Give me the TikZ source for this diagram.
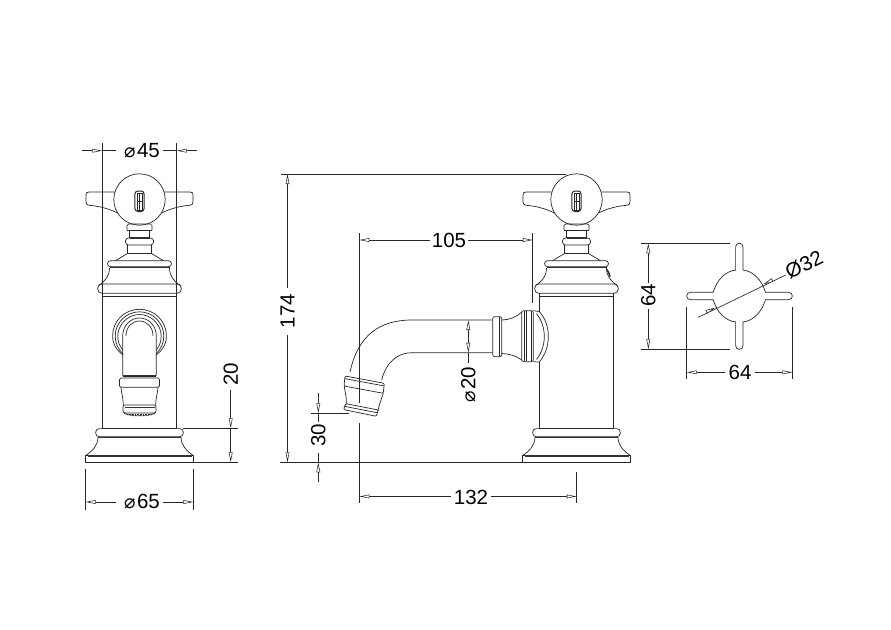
\documentclass[tikz,border=0pt]{standalone}
\usepackage{fontspec}
\setmainfont{Liberation Sans}
\newfontfamily\symfont{DejaVu Sans}
\usetikzlibrary{arrows.meta}
\newcommand{\dia}{{\symfont\fontsize{19}{19}\selectfont ⌀}\kern1.5pt}
\tikzset{
  part/.style={line width=0.7pt,draw=black!85,line join=round},
  heavy/.style={line width=1.3pt,draw=black!80},
  dimline/.style={line width=0.65pt,draw=black!85},
  tipa/.style={{Triangle[open,fill=white,length=10pt,width=3.8pt,line width=0.55pt]}-},
  tipb/.style={-{Triangle[open,fill=white,length=10pt,width=3.8pt,line width=0.55pt]}},
  dimtext/.style={font=\fontsize{20.5}{20.5}\selectfont,inner sep=0pt,text=black},
  head/.pic={
    % handle arms
    \draw[part] (-24.5,192) -- (-50.5,192) .. controls (-53,192) and (-53.5,193) .. (-53.5,195)
      -- (-53.5,202) .. controls (-53.5,204) and (-52.5,205) .. (-50.5,205.3)
      .. controls (-40,206) and (-30,209) .. (-22,213);
    \draw[part] (24.5,192) -- (50.5,192) .. controls (53,192) and (53.5,193) .. (53.5,195)
      -- (53.5,202) .. controls (53.5,204) and (52.5,205) .. (50.5,205.3)
      .. controls (40,206) and (30,209) .. (22,213);
    \draw[part,fill=white] (0,199.5) circle[radius=25.7];
    % slot
    \draw[part,line width=1pt,rounded corners=3pt] (-4.6,191) rectangle (4.6,211.5);
    \draw[part,line width=0.5pt] (-2.6,193) rectangle (2.6,210);
    \draw[part,line width=0.5pt] (0,193) -- (0,210) (-2.6,201.5) -- (2.6,201.5);
    % neck
    \draw[part,rounded corners=1.5pt] (-12.5,230) -- (-12.5,224) -- (12.5,224) -- (12.5,230);
    \draw[part] (-12.5,230) -- (12.5,230);
    \draw[part] (-10,230) -- (-10,238) (10,230) -- (10,238);
    \draw[part,rounded corners=3pt] (-14,238) rectangle (14,245);
    \draw[heavy] (-10,238) -- (10,238);
    \draw[part] (-12,245) -- (-12,253.5) -- (12,253.5) -- (12,245);
    % cone and flange
    \draw[part] (-12,253.5) -- (-24,260.7) (12,253.5) -- (24,260.7);
    \draw[part,rounded corners=3pt] (-32,260.7) rectangle (32,266.7);
    \draw[heavy] (-30,267.6) -- (30,267.6);
    % bell
    \draw[part] (-30,268) .. controls (-30,276) and (-34,281) .. (-41,285.5);
    \draw[part] (30,268) .. controls (30,276) and (34,281) .. (41,285.5);
    \draw[part,rounded corners=4pt] (-41.7,284) rectangle (41.7,293.3);
    \draw[part] (-37.2,296) -- (37.2,296) (-37.2,293.3) -- (-37.2,296) (37.2,293.3) -- (37.2,296);
  },
  foot/.pic={
    \draw[part] (-37.2,428.6) -- (37.2,428.6);
    \draw[part,rounded corners=3.5pt] (-43.8,428.6) rectangle (43.8,436.7);
    \draw[heavy] (-41.5,437.4) -- (41.5,437.4);
    \draw[part] (-41.5,437.5) .. controls (-42,446) and (-47,451) .. (-53.8,455.5);
    \draw[part] (41.5,437.5) .. controls (42,446) and (47,451) .. (53.8,455.5);
    \draw[part] (-53.8,455) rectangle (53.8,462.3);
    \draw[heavy] (-52,456) -- (52,456);
  },
}
\begin{document}
\begin{tikzpicture}[x=1pt,y=-1pt]
\useasboundingbox (0,0) rectangle (891,629);

% ---------- left view
\pic at (139.5,0) {head};
\pic at (139.5,0) {foot};
\draw[part] (102.3,296) -- (102.3,428.6) (176.7,296) -- (176.7,428.6);
% wall rosette arcs
\draw[part] (123.3,355) .. controls (116,350) and (112.6,344) .. (112.6,336)
  .. controls (112.6,321) and (124.5,309.3) .. (139.5,309.3)
  .. controls (154.5,309.3) and (166.4,321) .. (166.4,336)
  .. controls (166.4,344) and (163,350) .. (156,355);
\draw[part] (122.7,353.5) .. controls (118,349) and (115.2,343) .. (115.2,336)
  .. controls (115.2,323) and (126,311.8) .. (139.5,311.8)
  .. controls (153,311.8) and (163.8,323) .. (163.8,336)
  .. controls (163.8,343) and (161,349) .. (156.3,353.5);
\draw[part] (122.7,350) .. controls (119,345) and (117.8,341) .. (117.8,336)
  .. controls (117.8,325) and (127.5,314.5) .. (139.5,314.5)
  .. controls (151.5,314.5) and (161.2,325) .. (161.2,336)
  .. controls (161.2,341) and (160,345) .. (156.3,350);
% spout front
\draw[part] (122.7,375.5) -- (122.7,336) .. controls (122.7,326) and (130,318) .. (139.5,318)
  .. controls (149,318) and (156.3,326) .. (156.3,336) -- (156.3,375.5);
\draw[part] (126,336) .. controls (126,327) and (132,321) .. (139.5,321)
  .. controls (147,321) and (153,327) .. (153,336);
% nozzle
\draw[heavy] (122.7,375.6) -- (156.3,375.6);
\draw[part] (122.7,376.8) -- (156.3,376.8);
\draw[part,rounded corners=1.5pt] (119.5,378) rectangle (159.5,387.3);
\draw[part] (121,387.3) .. controls (121.5,394) and (123.3,398) .. (123.3,405);
\draw[part] (158,387.3) .. controls (157.5,394) and (155.7,398) .. (155.7,405);
\draw[part,rounded corners=2pt] (123,405) rectangle (156,413);
\draw[heavy,line width=1pt] (124.5,407.8) -- (154.5,407.8);
\draw[part,line width=1.2pt,dash pattern=on 1pt off 0.6pt] (124.3,413) .. controls (127,416.5) and (152,416.5) .. (154.7,413);
\draw[part,line width=1.2pt,dash pattern=on 1pt off 0.6pt] (127,414.8) -- (152,414.8);

% dim 45
\draw[dimline] (102.3,143.3) -- (102.3,293);
\draw[dimline] (176.7,143.3) -- (176.7,293);
\draw[dimline,tipb] (82,150.7) -- (102.3,150.7);
\draw[dimline] (102.3,150.7) -- (115.7,150.7);
\draw[dimline,tipb] (196.7,150.7) -- (176.7,150.7);
\draw[dimline] (176.7,150.7) -- (163.3,150.7);
\node[dimtext] (t45) at (142,151) {\dia 45};

% dim 65
\draw[dimline] (85.7,469) -- (85.7,510) (193.3,469) -- (193.3,510);
\draw[dimline,tipa] (85.7,502) -- (115.7,502);
\draw[dimline,tipa] (193.3,502) -- (163.3,502);
\node[dimtext] (t65) at (142,502) {\dia 65};

% dim 20
\draw[dimline] (183,428.3) -- (238,428.3) (193,462.3) -- (238,462.3);
\draw[dimline,tipa] (230.7,428.3) -- (230.7,390);
\draw[dimline] (230.7,428.3) -- (230.7,440);
\draw[dimline,tipa] (230.7,462.3) -- (230.7,440);
\node[dimtext,rotate=90] (t20) at (230.7,374) {20};

% ---------- right view
\pic at (576.5,0) {head};
\pic at (576.5,0) {foot};
\draw[part] (539.3,296) -- (539.3,311.5) (539.3,362) -- (539.3,428.6) (613.7,296) -- (613.7,428.6);
\draw[heavy,line width=1.6pt] (606.8,269.5) .. controls (608,271) and (609,273) .. (610,276.5);

% spout side
\draw[part] (492.7,320) -- (411.7,320) .. controls (380,320) and (358,335) .. (350,372);
\draw[part] (492.7,352.7) -- (411.7,352.7) .. controls (398,352.7) and (386,362) .. (381.7,380);
% nozzle side
\draw[part,rounded corners=1.2pt] (345,376) -- (384.3,383.3) -- (383.3,393.3) -- (344,386) -- cycle;
\draw[part] (344.7,378.6) -- (384,385.9);
\draw[part] (344.2,386) .. controls (345,393) and (347,398) .. (346.3,404);
\draw[part] (383.3,393.3) .. controls (381,400) and (379,405) .. (378,411);
\draw[part,rounded corners=1.2pt] (345.5,403.6) -- (378.3,410) -- (376.5,416.3) -- (343.6,409.6) -- cycle;
\draw[part] (344.8,406.4) -- (377.6,412.8);
% escutcheon side
\draw[part,rounded corners=2pt] (492.7,316.7) rectangle (501.7,356.7);
\draw[part] (499.4,317) -- (499.4,356.4);
\draw[part] (501.7,320) .. controls (510,319.5) and (515,318) .. (521.7,312);
\draw[part] (501.7,353.5) .. controls (510,354) and (515,355.5) .. (521.7,360);
\draw[part,rounded corners=2pt] (521.7,310.7) rectangle (533.3,361.7);
\draw[part] (524,311) -- (524,361.4) (526.7,311) -- (526.7,361.4) (531.7,311) -- (531.7,361.4);
\draw[part] (533.3,310.7) -- (539.3,311.5) .. controls (545,318) and (548.3,326) .. (548.3,336.5)
  .. controls (548.3,347) and (545,355) .. (539.3,362) -- (533.3,361.7);
\draw[part] (536.5,313.5) .. controls (541.5,320) and (544.3,328) .. (544.3,336.5)
  .. controls (544.3,345) and (541.5,353) .. (536.5,359.5);

% dim 174
\draw[dimline] (281,174) -- (566,174);
\draw[dimline] (279.5,462.3) -- (522.7,462.3);
\draw[dimline,tipa] (287.5,174) -- (287.5,288);
\draw[dimline,tipa] (287.5,462.3) -- (287.5,335);
\node[dimtext,rotate=90] (t174) at (287.5,311) {174};

% dim 105
\draw[dimline] (359.3,233) -- (359.3,403);
\draw[dimline] (359.3,423) -- (359.3,503);
\draw[dimline] (532.8,233) -- (532.8,303);
\draw[dimline,tipa] (359.3,240) -- (430,240);
\draw[dimline,tipa] (532.8,240) -- (468,240);
\node[dimtext] (t105) at (449,240.5) {105};

% dim 132
\draw[dimline] (576.7,471.7) -- (576.7,503.3);
\draw[dimline,tipa] (359.3,496.5) -- (451,496.5);
\draw[dimline,tipa] (576.7,496.5) -- (491,496.5);
\node[dimtext] (t132) at (471,497) {132};

% dim 30
\draw[dimline] (310.7,413.3) -- (349,413.3);
\draw[dimline,tipb] (318.3,393.3) -- (318.3,413.3);
\draw[dimline] (318.3,413.3) -- (318.3,422);
\draw[dimline,tipb] (318.3,481.7) -- (318.3,462.3);
\draw[dimline] (318.3,462.3) -- (318.3,452.7);
\node[dimtext,rotate=90] (t30) at (318.3,435.5) {30};

% dim dia 20
\draw[dimline,tipa] (468.3,320) -- (468.3,336);
\draw[dimline,tipa] (468.3,352.7) -- (468.3,336);
\draw[dimline] (468.3,352.7) -- (468.3,362.7);
\node[dimtext,rotate=90] (td20) at (468.3,384.5) {\dia 20};

% ---------- plan view of the handle
\draw[part] (735.6,270.1)
  -- (735.6,247)
  .. controls (735.6,242) and (743,242) .. (743,247)
  -- (743,270.1)
  .. controls (753,271) and (762,280) .. (765.4,292.3)
  -- (788.6,292.3) .. controls (793.6,292.3) and (793.6,299.7) .. (788.6,299.7)
  -- (765.4,299.7)
  .. controls (762,312) and (753,321) .. (743,321.9)
  -- (743,345.6) .. controls (743,350.6) and (735.6,350.6) .. (735.6,345.6)
  -- (735.6,321.9)
  .. controls (725.6,321) and (716.6,312) .. (713.2,299.7)
  -- (690.4,299.7) .. controls (685.4,299.7) and (685.4,292.3) .. (690.4,292.3)
  -- (713.2,292.3)
  .. controls (716.6,280) and (725.6,271) .. (735.6,270.1) -- cycle;

% dim 64 vertical
\draw[dimline] (641,243.3) -- (730,243.3) (641,349.3) -- (730,349.3);
\draw[dimline,tipa] (648.3,243.3) -- (648.3,283);
\draw[dimline,tipa] (648.3,349.3) -- (648.3,309);
\node[dimtext,rotate=90] (t64v) at (648.3,295.5) {64};

% dim 64 horizontal
\draw[dimline] (686.7,306.7) -- (686.7,379.3) (792.3,306.7) -- (792.3,379.3);
\draw[dimline,tipa] (686.7,372.3) -- (725,372.3);
\draw[dimline,tipa] (792.3,372.3) -- (755,372.3);
\node[dimtext] (t64h) at (740,372.5) {64};

% dim O32
\draw[dimline] (698.3,317.3) -- (785.7,275);
\coordinate (o1) at (715.3,307.6);
\coordinate (o2) at (763.3,284.4);
\draw[dimline,tipa] (o1) -- (706.3,312);
\draw[dimline,tipa] (o2) -- (772.3,280);
\node[dimtext,rotate=26] (t32) at (804,265) {Ø32};
\end{tikzpicture}
\end{document}
